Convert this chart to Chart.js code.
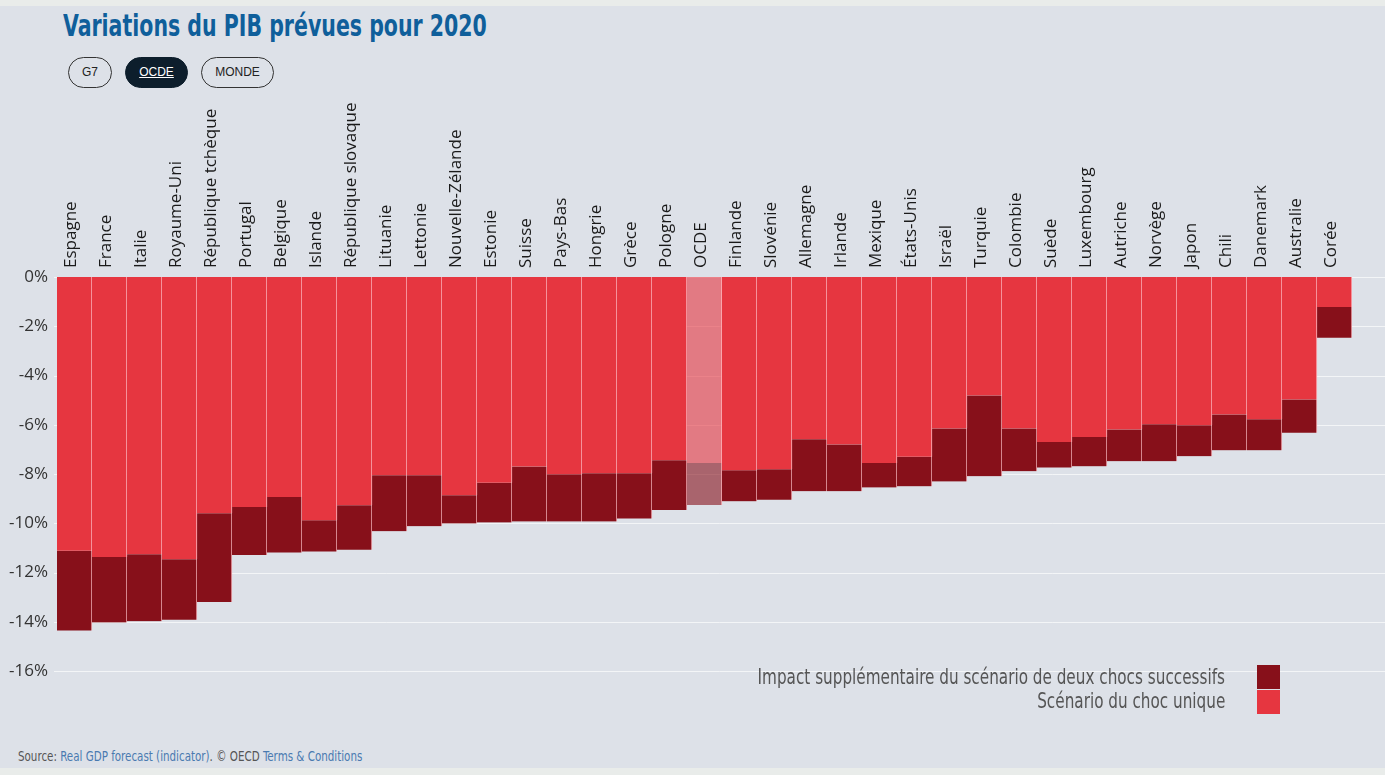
<!DOCTYPE html>
<html lang="fr">
<head>
<meta charset="utf-8">
<title>Variations du PIB prévues pour 2020</title>
<script src="https://cdn.jsdelivr.net/npm/chart.js@4.4.1/dist/chart.umd.min.js"></script>
<style>
  html, body { margin: 0; padding: 0; }
  body {
    width: 1385px; height: 775px; overflow: hidden;
    background: #e9ecea; position: relative;
    font-family: 'DejaVu Sans Condensed', 'Liberation Sans Narrow', sans-serif;
  }
  .panel { position: absolute; left: 0; top: 6px; width: 1385px; height: 762px; background: #dde1e8; }
  h1 {
    position: absolute; left: 63px; top: 8px; margin: 0;
    font-size: 30px; font-weight: bold; color: #0f5f9b; white-space: nowrap;
    transform: scaleX(0.76); transform-origin: left center;
  }
  .btn {
    position: absolute; top: 57px; height: 29px; box-sizing: content-box;
    border: 1px solid #333; border-radius: 16px;
    font-family: 'Liberation Sans', Arial, sans-serif; font-size: 12px; color: #222;
    text-align: center; line-height: 29px;
  }
  .btn.active { background: #0d1e2c; border-color: #0d1e2c; color: #fff; text-decoration: underline; }
  #chart-wrap { position: absolute; left: 0; top: 90px; width: 1385px; height: 610px; }
  .leg-text {
    position: absolute; right: 160px; height: 24px; line-height: 24px;
    font-size: 22px; color: #555; white-space: nowrap;
    transform: scaleX(0.77); transform-origin: right center;
  }
  .leg-box { position: absolute; left: 1257px; width: 23px; height: 24px; }
  .source {
    position: absolute; left: 18px; top: 748px; font-size: 13.5px; color: #555; white-space: nowrap;
    transform: scaleX(0.85); transform-origin: left center;
  }
  .source a { color: #4a7ab0; text-decoration: none; }
</style>
</head>
<body>
<div class="panel"></div>
<h1>Variations du PIB prévues pour 2020</h1>
<div class="btn" style="left:68px;width:42px;">G7</div>
<div class="btn active" style="left:125px;width:61px;">OCDE</div>
<div class="btn" style="left:201px;width:71px;">MONDE</div>

<div id="chart-wrap"><canvas id="gdp-chart"></canvas></div>

<div class="leg-text" style="top:665px;">Impact supplémentaire du scénario de deux chocs successifs</div>
<div class="leg-box" style="top:665px;background:#87101a"></div>
<div class="leg-text" style="top:689px;">Scénario du choc unique</div>
<div class="leg-box" style="top:690px;background:#e63640"></div>

<div class="source">Source: <a>Real GDP forecast (indicator)</a>. © OECD <a>Terms &amp; Conditions</a></div>

<script>
// Countries, ordered as in the chart
const pays = [
  'Espagne', 'France', 'Italie', 'Royaume-Uni', 'République tchèque', 'Portugal',
  'Belgique', 'Islande', 'République slovaque', 'Lituanie', 'Lettonie', 'Nouvelle-Zélande',
  'Estonie', 'Suisse', 'Pays-Bas', 'Hongrie', 'Grèce', 'Pologne', 'OCDE', 'Finlande',
  'Slovénie', 'Allemagne', 'Irlande', 'Mexique', 'États-Unis', 'Israël', 'Turquie',
  'Colombie', 'Suède', 'Luxembourg', 'Autriche', 'Norvège', 'Japon', 'Chili',
  'Danemark', 'Australie', 'Corée'
];

// Scénario du choc unique (%)
const chocUnique = [
  -11.12, -11.37, -11.26, -11.46, -9.59, -9.34,
  -8.93, -9.88, -9.27, -8.05, -8.05, -8.86,
  -8.36, -7.70, -8.01, -7.97, -7.97, -7.44, -7.55, -7.85,
  -7.81, -6.59, -6.80, -7.55, -7.30, -6.15, -4.81,
  -6.15, -6.70, -6.50, -6.19, -5.98, -6.02, -5.58,
  -5.78, -4.97, -1.22
];

// Impact supplémentaire du scénario de deux chocs successifs (%)
const impactSupp = [
  -3.24, -2.66, -2.72, -2.46, -3.61, -1.95,
  -2.26, -1.27, -1.81, -2.27, -2.07, -1.15,
  -1.61, -2.23, -1.92, -1.96, -1.84, -2.02, -1.71, -1.26,
  -1.24, -2.11, -1.90, -1.00, -1.20, -2.15, -3.28,
  -1.74, -1.04, -1.19, -1.29, -1.50, -1.26, -1.46,
  -1.26, -1.35, -1.25
];

const yTicks = [0, -2, -4, -6, -8, -10, -12, -14, -16];

const RED = '#e63640';
const DARK_RED = '#87101a';
const RED_HL = 'rgba(230, 54, 64, 0.6)';
const DARK_HL = 'rgba(135, 16, 26, 0.6)';

// Gridlines run under the bars and out to the right edge
const gridPlugin = {
  id: 'fullGrid',
  beforeDatasetsDraw(chart) {
    const { ctx, chartArea, scales } = chart;
    ctx.save();
    ctx.strokeStyle = 'rgba(255, 255, 255, 0.65)';
    ctx.lineWidth = 1;
    yTicks.forEach(v => {
      const y = Math.round(scales.y.getPixelForValue(v)) + 0.5;
      ctx.beginPath();
      ctx.moveTo(chartArea.left - 3, y);
      ctx.lineTo(chart.width, y);
      ctx.stroke();
    });
    ctx.restore();
  }
};

const barBorder = { left: 0, right: 1, top: 0, bottom: 0 };

new Chart(document.getElementById('gdp-chart'), {
  type: 'bar',
  data: {
    labels: pays,
    datasets: [
      {
        label: 'Scénario du choc unique',
        data: chocUnique,
        backgroundColor: pays.map(p => p === 'OCDE' ? RED_HL : RED),
        borderColor: 'rgba(255, 190, 195, 0.9)',
        borderWidth: barBorder,
        borderSkipped: false
      },
      {
        label: 'Impact supplémentaire du scénario de deux chocs successifs',
        data: impactSupp,
        backgroundColor: pays.map(p => p === 'OCDE' ? DARK_HL : DARK_RED),
        borderColor: 'rgba(255, 190, 195, 0.9)',
        borderWidth: barBorder,
        borderSkipped: false
      }
    ]
  },
  options: {
    responsive: true,
    maintainAspectRatio: false,
    animation: false,
    layout: { padding: { top: 0, right: 33, bottom: 29, left: 0 } },
    plugins: {
      legend: { display: false },
      tooltip: { enabled: false }
    },
    datasets: {
      bar: { categoryPercentage: 1, barPercentage: 1 }
    },
    scales: {
      x: {
        position: 'top',
        stacked: true,
        grid: { display: false, drawTicks: false },
        border: { display: false },
        ticks: {
          autoSkip: false,
          minRotation: 90,
          maxRotation: 90,
          padding: 9,
          labelOffset: 17,
          color: '#1a1a1a',
          font: { family: "'Open Sans'", size: 17 }
        },
        afterFit(scale) { scale.height = 187; }
      },
      y: {
        stacked: true,
        min: -16,
        max: 0,
        grid: { display: false, drawTicks: false },
        border: { display: false },
        afterBuildTicks(scale) { scale.ticks = yTicks.map(v => ({ value: v })); },
        ticks: {
          padding: 9,
          color: '#333',
          font: { family: "'Open Sans'", size: 17 },
          callback: v => v + '%'
        },
        afterFit(scale) { scale.width = 57; }
      }
    }
  },
  plugins: [gridPlugin]
});
</script>
</body>
</html>
